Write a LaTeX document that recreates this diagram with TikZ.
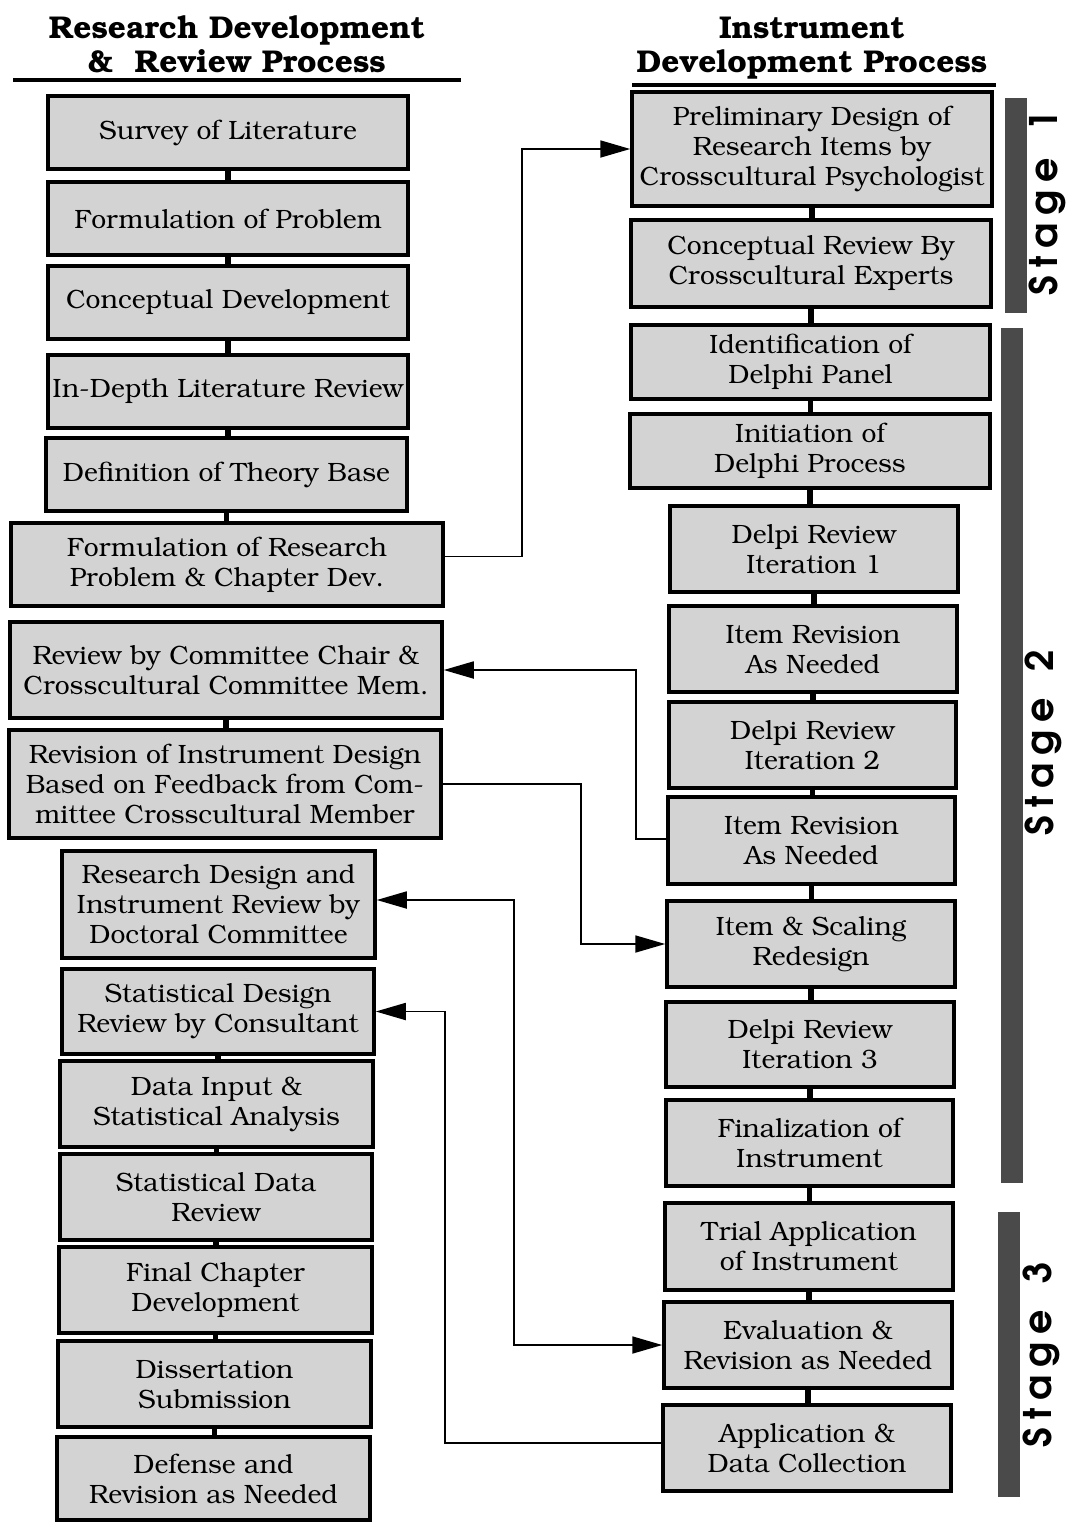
\documentclass[tikz,border=0pt]{standalone}
\usepackage[T1]{fontenc}
\usepackage{bookman}
\usetikzlibrary{arrows.meta}

\definecolor{boxfill}{HTML}{D3D3D3}
\definecolor{barfill}{HTML}{4A4A4A}

\tikzset{
  stepbox/.style={draw=black, line width=3.5pt, fill=boxfill, align=center,
    inner sep=0pt, font=\fontsize{26.5}{30}\selectfont},
  chain/.style={line width=5.5pt},
  feed/.style={line width=1.8pt, -{Triangle[length=30pt,width=17pt]}},
  feedboth/.style={line width=1.8pt, {Triangle[length=30pt,width=17pt]}-{Triangle[length=30pt,width=17pt]}},
  heading/.style={align=center, font=\fontsize{31.5}{34}\selectfont\bfseries},
  stagebar/.style={fill=barfill, draw=none},
  stagelabel/.style={rotate=90, font=\fontsize{38}{38}\fontfamily{pag}\fontseries{db}\selectfont}
}

\newcommand{\stagetext}[1]{S\kern8pt t\kern8pt a\kern8pt g\kern8pt e\kern26pt #1}

\begin{document}
\begin{tikzpicture}[x=1pt, y=-1pt]
\useasboundingbox (0,0) rectangle (1070,1523);

% ---- headings ----
\node[heading] (hleft) at (237,45) {Research Development\\\&\ \ Review Process};
\node[heading] (hright) at (812,48) {Instrument\\Development Process};
\draw[line width=4pt] (13,80) -- (461,80);
\draw[line width=4pt] (632,85) -- (996,85);

% ---- research development & review process ----
\node[stepbox, minimum width=360pt, minimum height=73pt] (L1) at (228,132.5) {Survey of Literature};
\node[stepbox, minimum width=360pt, minimum height=73pt] (L2) at (228,218.5) {Formulation of Problem};
\node[stepbox, minimum width=360pt, minimum height=73pt] (L3) at (228,302.5) {Conceptual Development};
\node[stepbox, minimum width=360pt, minimum height=73pt] (L4) at (228,391.5) {In-Depth Literature Review};
\node[stepbox, minimum width=361pt, minimum height=73pt] (L5) at (226.5,474.5) {Definition of Theory Base};
\node[stepbox, minimum width=432pt, minimum height=83pt] (L6) at (227,564.5) {Formulation of Research\\Problem \& Chapter Dev.};
\node[stepbox, minimum width=432pt, minimum height=96pt] (L7) at (226,670) {Review by Committee Chair \&\\Crosscultural Committee Mem.};
\node[stepbox, minimum width=432pt, minimum height=108pt] (L8) at (225,784) {Revision of Instrument Design\\Based on Feedback from Com-\\mittee Crosscultural Member};
\node[stepbox, minimum width=313pt, minimum height=107pt] (L9) at (218.5,904.5) {Research Design and\\Instrument Review by\\Doctoral Committee};
\node[stepbox, minimum width=312pt, minimum height=85pt] (L10) at (218,1011.5) {Statistical Design\\Review by Consultant};
\node[stepbox, minimum width=313pt, minimum height=86pt] (L11) at (216.5,1104) {Data Input \&\\Statistical Analysis};
\node[stepbox, minimum width=312pt, minimum height=86pt] (L12) at (216,1197) {Statistical Data\\Review};
\node[stepbox, minimum width=313pt, minimum height=86pt] (L13) at (215.5,1290) {Final Chapter\\Development};
\node[stepbox, minimum width=313pt, minimum height=86pt] (L14) at (214.5,1384) {Dissertation\\Submission};
\node[stepbox, minimum width=313pt, minimum height=83pt] (L15) at (213.5,1478.5) {Defense and\\Revision as Needed};

% ---- instrument development process ----
\node[stepbox, minimum width=360pt, minimum height=114pt] (R1) at (812,149) {Preliminary Design of\\Research Items by\\Crosscultural Psychologist};
\node[stepbox, minimum width=360pt, minimum height=87pt] (R2) at (811,263.5) {Conceptual Review By\\Crosscultural Experts};
\node[stepbox, minimum width=359pt, minimum height=74pt] (R3) at (810.5,362) {Identification of\\Delphi Panel};
\node[stepbox, minimum width=360pt, minimum height=74pt] (R4) at (810,451) {Initiation of\\Delphi Process};
\node[stepbox, minimum width=288pt, minimum height=86pt] (R5) at (814,549) {Delpi Review\\Iteration 1};
\node[stepbox, minimum width=288pt, minimum height=86pt] (R6) at (813,649) {Item Revision\\As Needed};
\node[stepbox, minimum width=287pt, minimum height=86pt] (R7) at (812.5,745) {Delpi Review\\Iteration 2};
\node[stepbox, minimum width=287pt, minimum height=87pt] (R8) at (811.5,840.5) {Item Revision\\As Needed};
\node[stepbox, minimum width=288pt, minimum height=86pt] (R9) at (811,944) {Item \& Scaling\\Redesign};
\node[stepbox, minimum width=288pt, minimum height=85pt] (R10) at (810,1044.5) {Delpi Review\\Iteration 3};
\node[stepbox, minimum width=287pt, minimum height=86pt] (R11) at (809.5,1143) {Finalization of\\Instrument};
\node[stepbox, minimum width=288pt, minimum height=87pt] (R12) at (809,1246.5) {Trial Application\\of Instrument};
\node[stepbox, minimum width=288pt, minimum height=86pt] (R13) at (808,1345) {Evaluation \&\\Revision as Needed};
\node[stepbox, minimum width=288pt, minimum height=86pt] (R14) at (807,1448) {Application \&\\Data Collection};

% ---- short links down each column ----
\foreach \a/\b in {L1/L2, L2/L3, L3/L4, L4/L5, L5/L6, L7/L8,
                   L10/L11, L11/L12, L12/L13, L13/L14, L14/L15,
                   R1/R2, R2/R3, R3/R4, R4/R5, R5/R6, R6/R7, R7/R8,
                   R8/R9, R9/R10, R10/R11, R11/R12, R12/R13, R13/R14}
  \draw[chain] (\a.south) -- (\a.south |- \b.north);

% ---- cross links between the two processes ----
\coordinate (v1) at (522,0);
\coordinate (v2) at (636,0);
\coordinate (v3) at (581,0);
\coordinate (v4) at (514,0);
\coordinate (v5) at (445,0);

\draw[feed] ([yshift=8pt]L6.east) -- ([yshift=8pt]L6.east -| v1) -- (v1 |- R1.west) -- (R1.west);
\draw[feed] ([yshift=1.5pt]R8.west) -- ([yshift=1.5pt]R8.west -| v2) -- (v2 |- L7.east) -- (L7.east);
\draw[feed] (L8.east) -- (L8.east -| v3) -- (v3 |- R9.west) -- (R9.west);
\draw[feedboth] ([yshift=4.5pt]L9.east) -- ([yshift=4.5pt]L9.east -| v4) -- (v4 |- R13.west) -- (R13.west);
\draw[feed] ([yshift=5pt]R14.west) -- ([yshift=5pt]R14.west -| v5) -- (v5 |- L10.east) -- (L10.east);

% ---- stage markers ----
\fill[stagebar] (1005,98) rectangle (1027,313);
\fill[stagebar] (1001,328) rectangle (1023,1183);
\fill[stagebar] (998,1212) rectangle (1020,1497);
\node[stagelabel] (s1) at (1047,203) {\stagetext{1}};
\node[stagelabel] (s2) at (1043,743) {\stagetext{2}};
\node[stagelabel] (s3) at (1041,1355) {\stagetext{3}};
\end{tikzpicture}
\end{document}
